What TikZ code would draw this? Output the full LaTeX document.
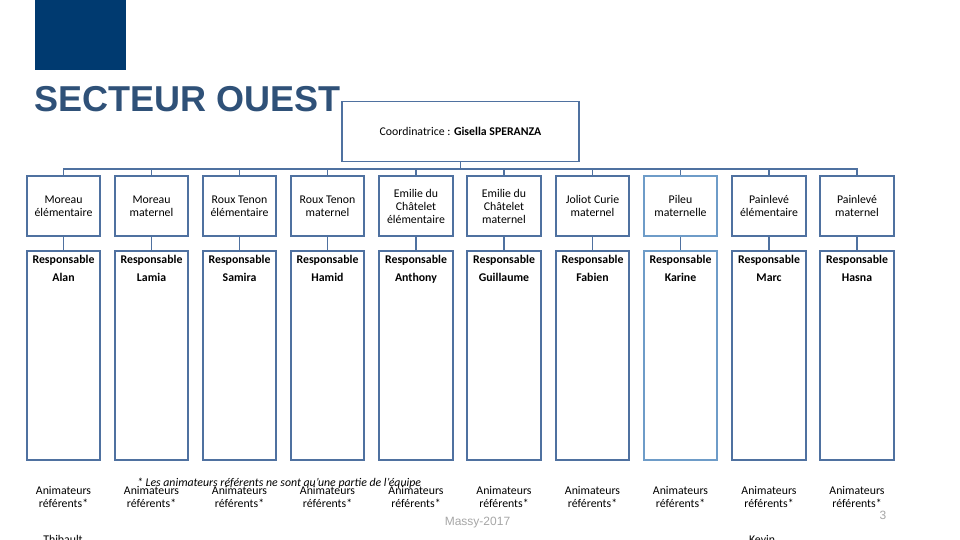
\documentclass[tikz,border=0pt]{standalone}
\usepackage{fontspec}
\setmainfont{Carlito}
\newfontfamily\arialfont{Liberation Sans}
\usetikzlibrary{positioning}
\definecolor{ouestNavy}{HTML}{003A70}
\definecolor{titleBlue}{HTML}{2F5178}
\definecolor{boxBlue}{HTML}{4F71A0}
\definecolor{lightBlue}{HTML}{6E9CC8}
\definecolor{footGray}{HTML}{A6A6A6}

\begin{document}
\begin{tikzpicture}[
  x=1pt,y=-1pt,
  site/.style={draw=boxBlue,line width=1.6pt,minimum width=73.5pt,
    minimum height=60pt,align=center,inner sep=1pt,
    font=\fontsize{11.8}{13}\selectfont},
  resp/.style={draw=boxBlue,line width=1.6pt,minimum width=73.5pt,
    minimum height=209pt},
  who/.style={align=center,inner sep=1pt,
    font=\fontsize{11.8}{18}\selectfont\bfseries},
  anim/.style={align=center,inner sep=0pt,font=\fontsize{11.8}{13}\selectfont},
  link/.style={boxBlue,line width=1.6pt}
]
  \useasboundingbox (0,0) rectangle (960,540);
  \clip (0,0) rectangle (960,540);

  % titre
  \fill[ouestNavy] (35,0) rectangle (126,70);
  \node[anchor=base west,inner sep=0pt,text=titleBlue,
    font=\arialfont\bfseries\fontsize{36}{36}\selectfont] (title) at (34,112) {SECTEUR OUEST};

  \node[draw=boxBlue,line width=1.6pt,minimum width=237pt,minimum height=60pt,
    font=\fontsize{11.8}{13}\selectfont] (coord) at (460.5,131.5) {Coordinatrice : \textbf{Gisella SPERANZA}};
  \coordinate (bus) at (460.5,169);

  % structures
  \node[site] (s1) at (63.5,206) {Moreau\\élémentaire};
  \node[site] (s2) at (151.5,206) {Moreau\\maternel};
  \node[site] (s3) at (239.5,206) {Roux Tenon\\élémentaire};
  \node[site] (s4) at (327.5,206) {Roux Tenon\\maternel};
  \node[site] (s5) at (416,206) {Emilie du\\Châtelet\\élémentaire};
  \node[site] (s6) at (504,206) {Emilie du\\Châtelet\\maternel};
  \node[site] (s7) at (592.5,206) {Joliot Curie\\maternel};
  \node[site,draw=lightBlue] (s8) at (680.5,206) {Pileu\\maternelle};
  \node[site] (s9) at (769,206) {Painlevé\\élémentaire};
  \node[site] (s10) at (857,206) {Painlevé\\maternel};

  % responsables
  \node[resp] (r1) at (63.5,355.5) {};
  \node[resp] (r2) at (151.5,355.5) {};
  \node[resp] (r3) at (239.5,355.5) {};
  \node[resp] (r4) at (327.5,355.5) {};
  \node[resp] (r5) at (416,355.5) {};
  \node[resp] (r6) at (504,355.5) {};
  \node[resp] (r7) at (592.5,355.5) {};
  \node[resp,draw=lightBlue] (r8) at (680.5,355.5) {};
  \node[resp] (r9) at (769,355.5) {};
  \node[resp] (r10) at (857,355.5) {};

  \node[who,below=3.5pt of r1.north] (n1) {Responsable\\Alan};
  \node[who,below=3.5pt of r2.north] (n2) {Responsable\\Lamia};
  \node[who,below=3.5pt of r3.north] (n3) {Responsable\\Samira};
  \node[who,below=3.5pt of r4.north] (n4) {Responsable\\Hamid};
  \node[who,below=3.5pt of r5.north] (n5) {Responsable\\Anthony};
  \node[who,below=3.5pt of r6.north] (n6) {Responsable\\Guillaume};
  \node[who,below=3.5pt of r7.north] (n7) {Responsable\\Fabien};
  \node[who,below=3.5pt of r8.north] (n8) {Responsable\\Karine};
  \node[who,below=3.5pt of r9.north] (n9) {Responsable\\Marc};
  \node[who,below=3.5pt of r10.north] (n10) {Responsable\\Hasna};

  % liens
  \draw[link] (coord.south) -- (bus);
  \draw[link] (bus) -| (s1.north) (bus) -| (s2.north) (bus) -| (s3.north)
    (bus) -| (s4.north) (bus) -| (s5.north) (bus) -| (s6.north)
    (bus) -| (s7.north) (bus) -| (s8.north) (bus) -| (s9.north)
    (bus) -| (s10.north);
  \draw[link] (s1) -- (r1) (s2) -- (r2) (s3) -- (r3) (s4) -- (r4) (s5) -- (r5)
    (s6) -- (r6) (s7) -- (r7) (s8) -- (r8) (s9) -- (r9) (s10) -- (r10);

  % animateurs
  \node[anim] (a1) at (63.5,496.5) {Animateurs\\référents*};
  \node[anim] (a2) at (151.5,496.5) {Animateurs\\référents*};
  \node[anim] (a3) at (239.5,496.5) {Animateurs\\référents*};
  \node[anim] (a4) at (327.5,496.5) {Animateurs\\référents*};
  \node[anim] (a5) at (416,496.5) {Animateurs\\référents*};
  \node[anim] (a6) at (504,496.5) {Animateurs\\référents*};
  \node[anim] (a7) at (592.5,496.5) {Animateurs\\référents*};
  \node[anim] (a8) at (680.5,496.5) {Animateurs\\référents*};
  \node[anim] (a9) at (769,496.5) {Animateurs\\référents*};
  \node[anim] (a10) at (857,496.5) {Animateurs\\référents*};
  \node[anim] (thib) at (63,539) {Thibault};
  \node[anim] (kevin) at (762,539) {Kevin};

  \node[anim,font=\fontsize{11.8}{13}\selectfont\itshape] (foot) at (279,483)
    {* Les animateurs référents ne sont qu'une partie de l'équipe};
  \node[anim,text=footGray,font=\arialfont\fontsize{12}{13}\selectfont] (massy) at (477.5,523) {Massy-2017};
  \node[anim,text=footGray,font=\arialfont\fontsize{12}{13}\selectfont] (page) at (883,515) {3};
\end{tikzpicture}
\end{document}
